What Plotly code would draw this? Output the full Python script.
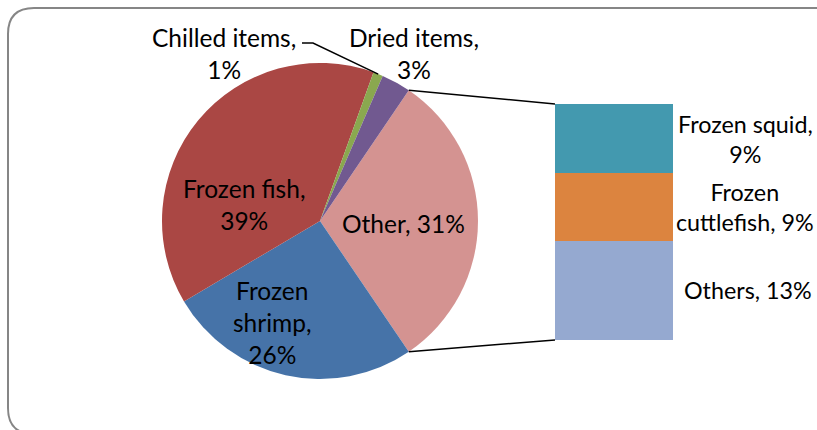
import math
import plotly.graph_objects as go

# ---- data ----
pie_labels = ["Other", "Frozen shrimp", "Frozen fish", "Chilled items", "Dried items"]
pie_values = [31, 26, 39, 1, 3]
pie_colors = ["#D49391", "#4673A8", "#AA4744", "#8AA84F", "#715990"]

bar_labels = ["Others", "Frozen cuttlefish", "Frozen squid"]   # bottom -> top
bar_values = [13, 9, 9]
bar_colors = ["#95A9D0", "#DC843F", "#4399AF"]

pie_text = ["Other, 31%", "Frozen<br>shrimp,<br>26%", "Frozen fish,<br>39%",
            "Chilled items,<br>1%", "Dried items,<br>3%"]
bar_text = ["Others, 13%", "Frozen<br>cuttlefish, 9%", "Frozen squid,<br>9%"]

# ---- layout geometry (pixels) ----
W, H = 817, 430
CX, CY, R = 320, 221, 158
BAR_L, BAR_R, BAR_T, BAR_B = 555, 673, 104, 340
FONT = "Lato"
FS = 24.5
FS_BAR = 23.3


def px(x):
    return x / W


def py(y):
    return 1 - y / H


total = sum(pie_values)
other_half = pie_values[0] / total * 360 / 2
rotation = 90 - other_half  # first slice (Other) starts here, clockwise from 12 o'clock

fig = go.Figure()
fig.add_trace(go.Pie(
    labels=pie_labels, values=pie_values, sort=False, direction="clockwise",
    rotation=rotation, textinfo="none", hoverinfo="label+percent",
    marker=dict(colors=pie_colors, line=dict(width=0)),
    domain=dict(x=[px(CX - R), px(CX + R)], y=[py(CY + R), py(CY - R)]),
    showlegend=False,
))

for lab, val, col in zip(bar_labels, bar_values, bar_colors):
    fig.add_trace(go.Bar(x=[0], y=[val], name=lab, marker=dict(color=col, line=dict(width=0)),
                         width=1, showlegend=False, xaxis="x", yaxis="y"))


def slice_point(frac_from_start, radius=R):
    ang = math.radians(rotation + frac_from_start * 360)  # clockwise from 12 o'clock
    return CX + radius * math.sin(ang), CY - radius * math.cos(ang)


# connector lines between pie "Other" slice and the bar
top_pt = slice_point(0)
bot_pt = slice_point(pie_values[0] / total)
shapes = [
    dict(type="line", xref="paper", yref="paper", x0=px(top_pt[0]), y0=py(top_pt[1]),
         x1=px(BAR_L), y1=py(BAR_T), line=dict(color="black", width=1.5)),
    dict(type="line", xref="paper", yref="paper", x0=px(bot_pt[0]), y0=py(bot_pt[1]),
         x1=px(BAR_L), y1=py(BAR_B), line=dict(color="black", width=1.5)),
]

# leader line for chilled items
cum = sum(pie_values[:3]) / total
chilled_mid = slice_point(cum + pie_values[3] / total / 2)
shapes.append(dict(type="path", xref="paper", yref="paper",
                   path=f"M {px(302)} {py(43)} L {px(313)} {py(43)} L {px(chilled_mid[0])} {py(chilled_mid[1])}",
                   line=dict(color="black", width=1.5)))

# rounded border
L, T, Rr, B, rad = 8, 8, 835, 434, 26
path = (f"M {px(L + rad)} {py(T)} L {px(Rr)} {py(T)} L {px(Rr)} {py(B)} L {px(L + rad)} {py(B)} "
        f"Q {px(L)} {py(B)} {px(L)} {py(B - rad)} L {px(L)} {py(T + rad)} "
        f"Q {px(L)} {py(T)} {px(L + rad)} {py(T)} Z")
shapes.append(dict(type="path", xref="paper", yref="paper", path=path,
                   line=dict(color="#868686", width=2), layer="below"))

# labels
pie_label_pos = [(403, 223), (272, 322), (244, 205), (224, 53), (414, 53)]
annotations = []
for t, (x, y) in zip(pie_text, pie_label_pos):
    annotations.append(dict(text=t, x=px(x), y=py(y), xref="paper", yref="paper",
                            showarrow=False, xanchor="center", yanchor="middle",
                            font=dict(family=FONT, size=FS, color="black")))
bar_label_pos = [(748, 290), (745, 207), (745, 139)]
for t, (x, y) in zip(bar_text, bar_label_pos):
    annotations.append(dict(text=t, x=px(x), y=py(y), xref="paper", yref="paper",
                            showarrow=False, xanchor="center", yanchor="middle",
                            font=dict(family=FONT, size=FS_BAR, color="black")))

fig.update_layout(
    width=W, height=H, margin=dict(l=0, r=0, t=0, b=0),
    paper_bgcolor="white", plot_bgcolor="rgba(0,0,0,0)",
    barmode="stack", bargap=0,
    xaxis=dict(domain=[px(BAR_L), px(BAR_R)], range=[-0.5, 0.5], visible=False, fixedrange=True),
    yaxis=dict(domain=[py(BAR_B), py(BAR_T)], range=[0, sum(bar_values)], visible=False, fixedrange=True),
    shapes=shapes, annotations=annotations,
    font=dict(family=FONT),
)

fig.write_html("out.html")
